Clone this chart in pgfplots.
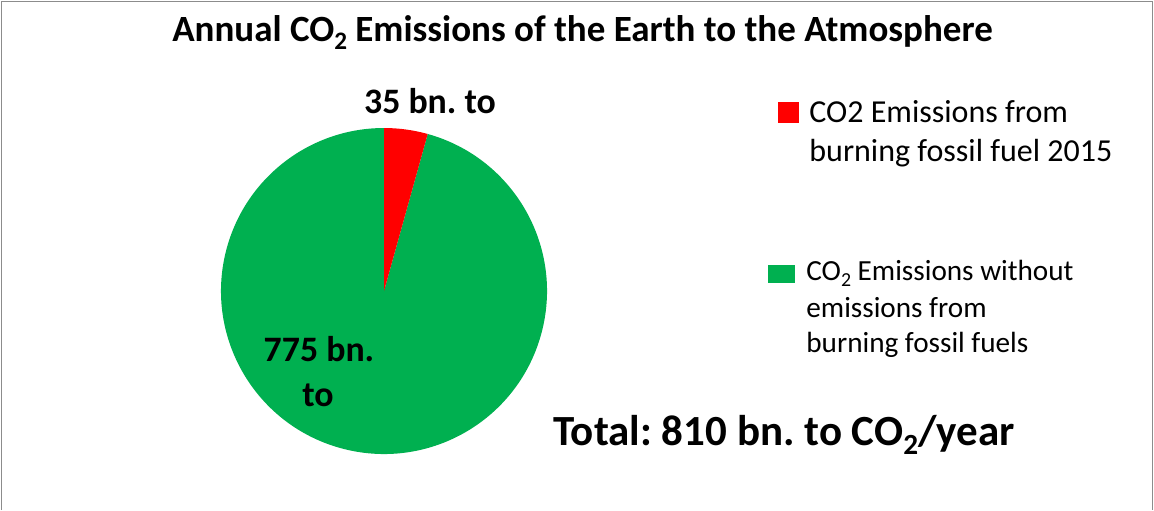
\documentclass[border=0pt]{standalone}
\usepackage{pgfplots}
\pgfplotsset{compat=1.18}
\usepackage{fontspec}
\setmainfont{Carlito}
\frenchspacing
\definecolor{slicered}{HTML}{FF0000}
\definecolor{slicegreen}{HTML}{00B050}
\definecolor{framegray}{HTML}{8C8C8C}
\newcommand{\subtwo}{\raisebox{-0.45ex}{\scalebox{0.68}{2}}}
\begin{document}
\begin{tikzpicture}
\begin{axis}[
  scale only axis, width=577pt, height=255pt,
  xmin=0, xmax=1154, ymin=0, ymax=510,
  hide axis, clip=false,
]
% data (bn. t CO2 per year)
\pgfmathsetmacro{\fossil}{35}
\pgfmathsetmacro{\other}{775}
\pgfmathsetmacro{\total}{\fossil+\other}
\pgfmathsetmacro{\aend}{90-360*(\fossil/\total)}
\pgfmathsetmacro{\gend}{\aend-360*(\other/\total)}
% background and frame
\fill[white] (axis cs:0,0) rectangle (axis cs:1154,510);
\draw[framegray, line width=0.8pt] (axis cs:1.5,0) -- (axis cs:1.5,508.5) -- (axis cs:1152.5,508.5) -- (axis cs:1152.5,0);
% pie
\fill[slicegreen] (axis cs:384,219) -- ++(\aend:81.5pt) arc[start angle=\aend, end angle=\gend, radius=81.5pt] -- cycle;
\fill[slicered] (axis cs:384,219) -- ++(90:81.5pt) arc[start angle=90, end angle=\aend, radius=81.5pt] -- cycle;
% title
\node[anchor=base, font=\fontsize{18.5}{22}\selectfont\bfseries, inner sep=0pt] at (axis cs:582.5,468.3) {Annual CO\subtwo{} Emissions of the Earth to the Atmosphere};
% data labels
\node[anchor=base, font=\fontsize{17.9}{20}\selectfont\bfseries, inner sep=0pt] at (axis cs:430,396.7) {35 bn. to};
\node[anchor=base, font=\fontsize{17.9}{20}\selectfont\bfseries, inner sep=0pt] at (axis cs:319,149) {775 bn.};
\node[anchor=base, font=\fontsize{17.9}{20}\selectfont\bfseries, inner sep=0pt] at (axis cs:318,103.3) {to};
% total
\node[anchor=base west, font=\fontsize{21.5}{24}\selectfont\bfseries, inner sep=0pt] at (axis cs:553,65) {Total: 810 bn. to CO\subtwo/year};
% legend
\fill[slicered] (axis cs:778,387) rectangle (axis cs:799,408);
\fill[slicegreen] (axis cs:768,227) rectangle (axis cs:795,245);
\begin{scope}[every node/.style={anchor=base west, font=\fontsize{16}{18}\selectfont, inner sep=0pt}]
\node at (axis cs:809,388) {CO2 Emissions from};
\node at (axis cs:809,349) {burning fossil fuel 2015};
\end{scope}
\begin{scope}[every node/.style={anchor=base west, font=\fontsize{14.6}{18}\selectfont, inner sep=0pt}]
\node at (axis cs:806,230) {CO\subtwo{} Emissions without};
\node at (axis cs:806,193) {emissions from};
\node at (axis cs:806,158) {burning fossil fuels};
\end{scope}
\end{axis}
\end{tikzpicture}
\end{document}
